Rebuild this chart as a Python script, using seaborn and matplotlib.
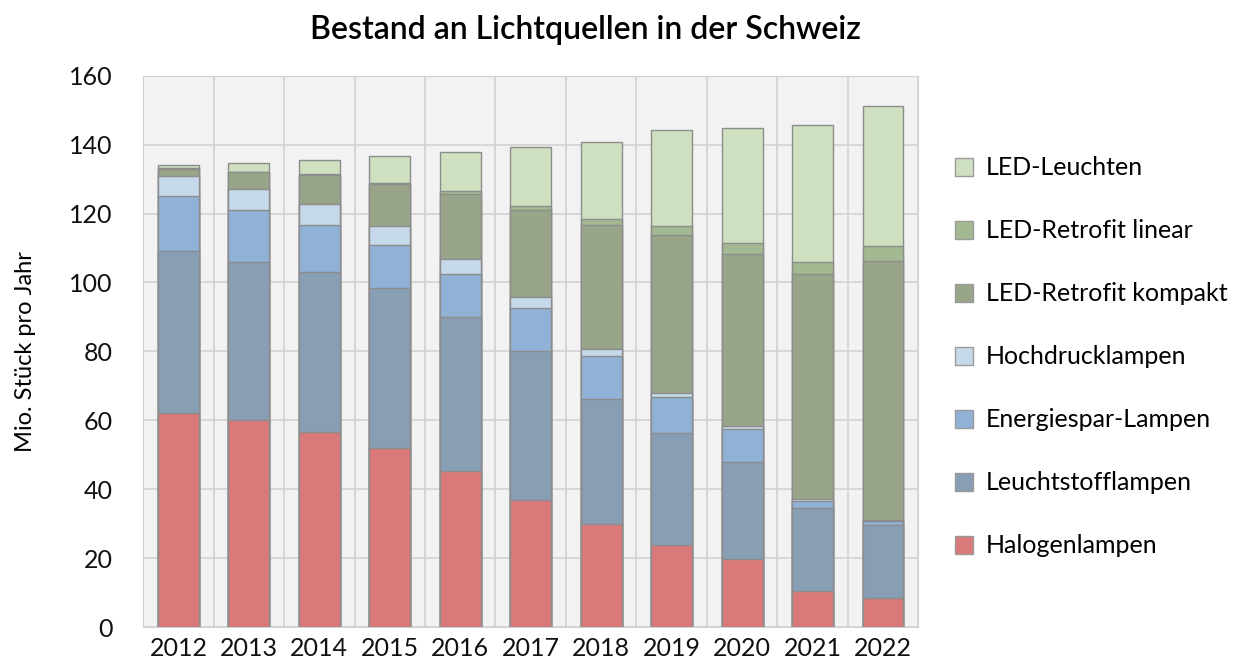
import numpy as np
import pandas as pd
import seaborn as sns
from matplotlib import pyplot as plt
from matplotlib.patches import Patch

years = ["2012", "2013", "2014", "2015", "2016", "2017", "2018", "2019", "2020", "2021", "2022"]

# Mio. Stueck (bottom to top of each stack)
halogen = [62.0, 60.0, 56.7, 51.9, 45.4, 36.9, 29.9, 23.9, 19.7, 10.4, 8.4]
leuchtstoff = [47.0, 46.0, 46.3, 46.5, 44.6, 43.3, 36.2, 32.3, 28.1, 24.1, 21.2]
energiespar = [16.0, 15.0, 13.7, 12.4, 12.4, 12.4, 12.7, 10.7, 9.7, 2.1, 1.3]
hochdruck = [6.0, 6.0, 6.0, 5.5, 4.3, 3.3, 1.9, 0.9, 0.8, 0.7, 0.1]
retro_kompakt = [2.0, 5.0, 8.6, 12.2, 19.1, 25.2, 36.0, 46.0, 49.9, 65.1, 75.1]
retro_linear = [0.2, 0.2, 0.2, 0.3, 0.7, 1.2, 1.8, 2.5, 3.2, 3.6, 4.5]
led_leuchten = [0.9, 2.5, 4.1, 7.8, 11.5, 17.0, 22.3, 28.0, 33.3, 39.7, 40.7]

series = ["Halogenlampen", "Leuchtstofflampen", "Energiespar-Lampen", "Hochdrucklampen",
          "LED-Retrofit kompakt", "LED-Retrofit linear", "LED-Leuchten"]
values = [halogen, leuchtstoff, energiespar, hochdruck, retro_kompakt, retro_linear, led_leuchten]
colors = ["#da7979", "#889eb4", "#90b2d6", "#c6d9eb", "#98a589", "#a3b991", "#cee0c0"]

df = pd.DataFrame({"Jahr": years})
cum = np.zeros(len(years))
for name, vals in zip(series, values):
    cum = cum + np.array(vals)
    df[name] = cum

plt.rcParams["font.family"] = ["Lato", "DejaVu Sans"]
fig = plt.figure(figsize=(12.4, 6.7), dpi=100)
ax = fig.add_axes([0.1155, 0.064, 0.625, 0.823])
ax.set_facecolor("#f2f2f2")

# draw the cumulative totals from the top down so each layer covers the one above
for name, col in reversed(list(zip(series, colors))):
    sns.barplot(data=df, x="Jahr", y=name, color=col, width=0.58,
                edgecolor="#8c8c8c", linewidth=1.0, saturation=1, ax=ax, zorder=3)

ax.set_xlim(-0.5, len(years) - 0.5)
ax.set_ylim(0, 160)
ax.set_yticks(range(0, 161, 20))
ax.set_xticks(np.arange(-0.5, len(years), 1), minor=True)
ax.grid(axis="y", color="#d2d2d2", linewidth=1.2, zorder=0)
ax.grid(axis="x", which="minor", color="#d2d2d2", linewidth=1.2, zorder=0)
ax.set_axisbelow(True)
ax.tick_params(axis="both", which="both", length=0, labelsize=18, colors="#111111")
ax.tick_params(axis="x", pad=7)
ax.tick_params(axis="y", pad=22)
for s in ax.spines.values():
    s.set_color("#d2d2d2")

ax.set_xlabel("")
ax.set_ylabel("Mio. Stück pro Jahr", fontsize=17)
ax.yaxis.set_label_coords(-0.138, 0.5)
fig.suptitle("Bestand an Lichtquellen in der Schweiz", fontsize=23, x=0.472, y=0.978,
             fontweight="semibold")

handles = [Patch(facecolor=c, edgecolor="#9a9a9a", label=n)
           for n, c in zip(series, colors)][::-1]
ax.legend(handles=handles, loc="center left", bbox_to_anchor=(1.018, 0.49), frameon=False,
          fontsize=18, labelspacing=1.6, handlelength=0.75, handleheight=0.75,
          handletextpad=0.5)

fig.savefig("out.png", dpi=100)
